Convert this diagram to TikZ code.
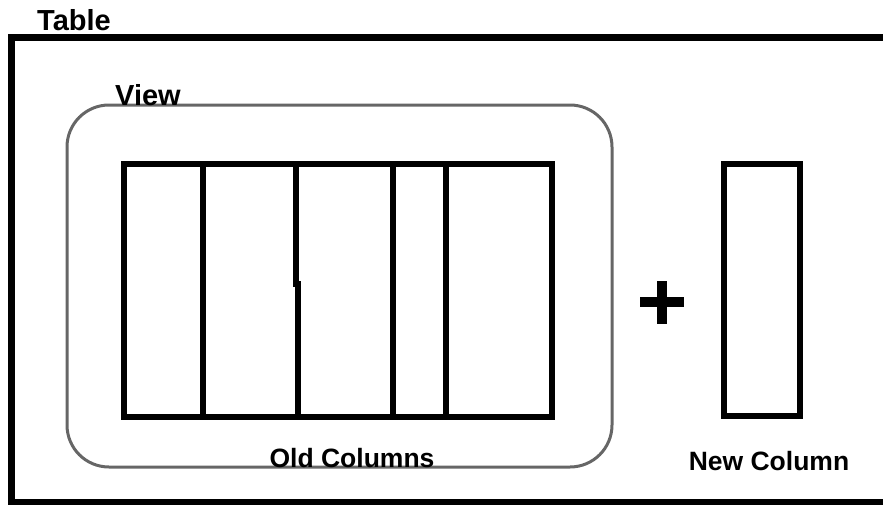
\documentclass[tikz,border=0pt]{standalone}
\usepackage{fontspec}
\setmainfont{Liberation Sans}
\usetikzlibrary{positioning}
\tikzset{
	colbox/.style={draw,line width=6pt,inner sep=0pt,outer sep=0pt},
	caption/.style={font=\bfseries\fontsize{26.5}{26.5}\selectfont,inner sep=0pt},
	heading/.style={font=\bfseries\fontsize{29}{29}\selectfont,inner sep=0pt,anchor=base west},
}

\begin{document}
\begin{tikzpicture}[x=1pt,y=-1pt]
	\useasboundingbox (0,0) rectangle (883,504);
	\clip (0,0) rectangle (883,504);

	% table frame, runs off the right edge
	\draw[line width=7pt] (11,37.5) rectangle (900,502);
	\node[heading] (table) at (37,30) {Table};

	% view around the old columns
	\draw[line width=3pt,draw=black!60,rounded corners=42pt] (67,105) rectangle (612,467);
	\node[heading] (view) at (115,105) {View};

	\node[colbox,minimum width=428.5pt,minimum height=253pt] (old) at (337.75,290) {};
	\foreach \x in {202.5,446,392.5} \draw[line width=6pt] (\x,0 |- old.north) -- (\x,0 |- old.south);
	\draw[line width=6pt] (296,0 |- old.north) -- (296,284) -- (297.5,284) -- (297.5,0 |- old.south);
	\node[caption,anchor=base] (oldlbl) at (352,467) {Old Columns};

	% plus sign
	\draw[line width=10pt] (640,302) -- (684,302);
	\draw[line width=10pt] (662,281) -- (662,324);

	\node[colbox,minimum width=76.5pt,minimum height=252pt] (new) at (761.75,290) {};
	\node[caption,anchor=base] (newlbl) at (769,470) {New Column};
\end{tikzpicture}
\end{document}
